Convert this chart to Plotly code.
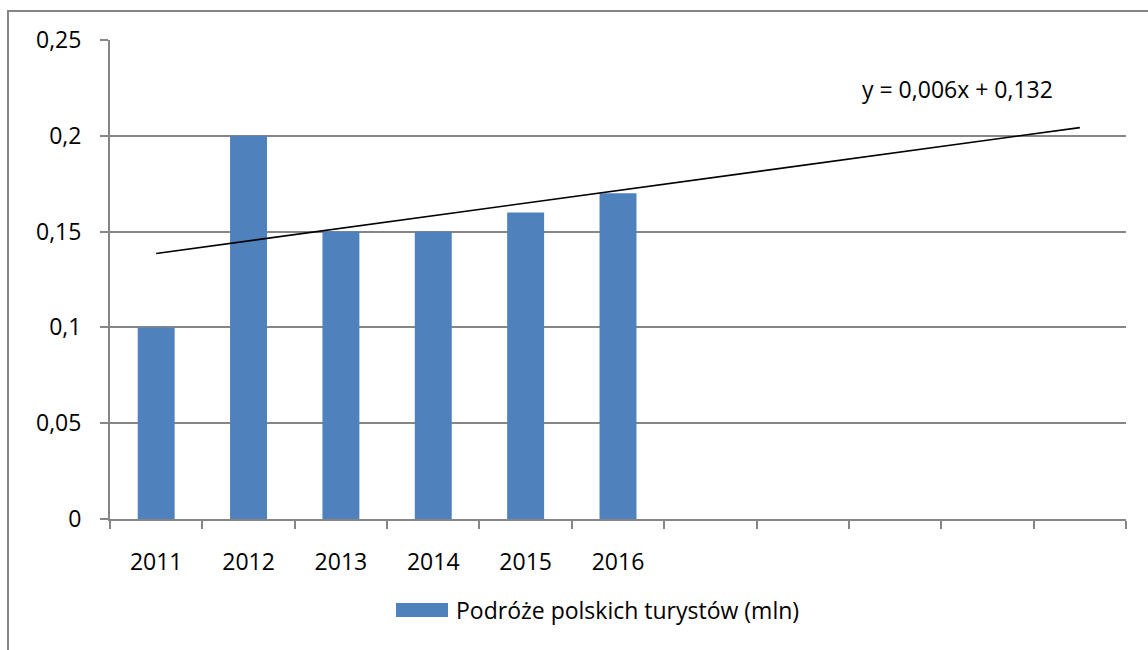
import numpy as np
import plotly.graph_objects as go

# ---- data ----
years = ["2011", "2012", "2013", "2014", "2015", "2016"]
values = [0.10, 0.20, 0.15, 0.15, 0.16, 0.17]
empty_slots = [" ", "  ", "   ", "    ", "     "]  # unlabeled categories on the axis
series_name = "Podróże polskich turystów (mln)"
trend_label = "y = 0,006x + 0,132"
y_ticks = [0, 0.05, 0.10, 0.15, 0.20, 0.25]

categories = years + empty_slots

# linear trend (Excel style) fitted on category index 1..n, extended to the last category
idx = np.arange(1, len(values) + 1)
slope, intercept = np.polyfit(idx, values, 1)
trend_x = [categories[0], categories[-1]]
trend_y = [slope * 1 + intercept, slope * len(categories) + intercept]

FONT = "Open Sans"
FS = 23
GREY = "#868686"
BLUE = "#4F81BD"

fig = go.Figure()
fig.add_trace(go.Bar(x=years, y=values, name=series_name, marker_color=BLUE,
                     marker_line_width=0, showlegend=False))
fig.add_trace(go.Scatter(x=trend_x, y=trend_y, mode="lines",
                         line=dict(color="black", width=1.6), showlegend=False,
                         hoverinfo="skip"))

fig.update_layout(
    width=1148, height=650,
    margin=dict(l=110, r=22, t=40, b=131),
    paper_bgcolor="white", plot_bgcolor="white",
    separators=", ",
    bargap=0.6,
    font=dict(family=FONT, size=FS, color="black"),
    showlegend=False,
)
fig.update_xaxes(
    type="category", categoryorder="array", categoryarray=categories,
    range=[-0.5, len(categories) - 0.5],
    tickson="boundaries", ticks="outside", ticklen=8, tickwidth=2, tickcolor=GREY,
    showline=True, linecolor=GREY, linewidth=2, showgrid=False, zeroline=False,
    tickfont=dict(family=FONT, size=FS), ticklabelstandoff=21,
)
fig.update_yaxes(
    range=[0, 0.25], tickvals=y_ticks, ticks="outside", ticklen=8, tickwidth=2, tickcolor=GREY,
    showline=True, linecolor=GREY, linewidth=2, showgrid=True, gridcolor=GREY, gridwidth=1.5,
    zeroline=False, tickfont=dict(family=FONT, size=FS), ticklabelstandoff=14,
)

# trendline equation
fig.add_annotation(text=trend_label, xref="paper", yref="paper", x=0.738, y=0.898,
                   xanchor="left", yanchor="middle", showarrow=False,
                   font=dict(family=FONT, size=FS, color="black"))

# legend (Excel-style wide swatch)
fig.add_shape(type="rect", xref="paper", yref="paper", x0=0.2815, x1=0.3327,
              y0=-0.2046, y1=-0.1754, fillcolor=BLUE, line_width=0)
fig.add_annotation(text=series_name, xref="paper", yref="paper", x=0.3386, y=-0.19,
                   xanchor="left", yanchor="middle", showarrow=False,
                   font=dict(family=FONT, size=FS, color="black"))

# chart-area frame (left and top edges visible)
fig.add_shape(type="rect", xref="paper", yref="paper", x0=-0.1004, x1=1.05,
              y0=-0.35, y1=1.0605, line=dict(color=GREY, width=2), fillcolor="rgba(0,0,0,0)",
              layer="below")

fig.write_html("out.html", config={"displayModeBar": False},
               post_script="document.body.style.margin='0';document.body.style.overflow='hidden';")
